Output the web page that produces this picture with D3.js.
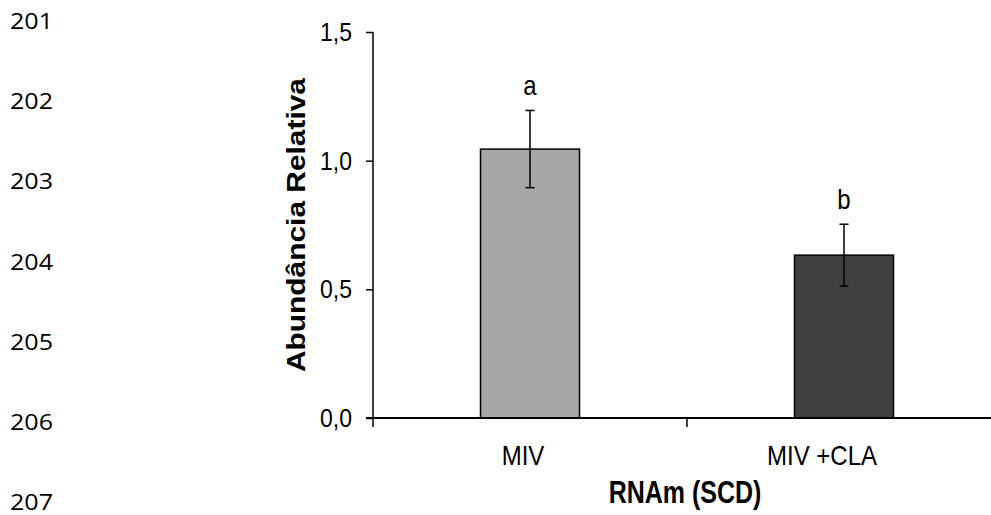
<!DOCTYPE html>
<html>
<head>
<meta charset="utf-8">
<script src="https://cdn.jsdelivr.net/npm/d3@7"></script>
<style>
  html, body { margin: 0; padding: 0; background: #fff; }
  svg { display: block; }
</style>
</head>
<body>
<svg id="chart" width="991" height="515"></svg>
<script>
const categories = ["MIV", "MIV +CLA"];
const means = [1.045, 0.633];
const errors = [0.150, 0.120];
const letters = ["a", "b"];
const barColors = ["#a6a6a6", "#404040"];
const yTicks = [0, 0.5, 1.0, 1.5];
const lineNumbers = ["201", "202", "203", "204", "205", "206", "207"];
const yLabel = "Abundância Relativa";
const xLabel = "RNAm (SCD)";

const svg = d3.select("#chart");
const W = 991, H = 515;
const SY = 1.15; // vertical stretch of chart text
const font = "'Liberation Sans', Arial, sans-serif";

function stretchedText(parent, px, py, str, size, anchor, weight, sy) {
  return parent.append("text")
    .attr("transform", `translate(${px},${py}) scale(1,${sy || SY})`)
    .attr("text-anchor", anchor || "middle")
    .attr("font-family", font).attr("font-size", size)
    .attr("font-weight", weight || "normal")
    .attr("fill", "#000")
    .text(str);
}

// line numbers on the left margin
const lineY = d3.scalePoint().domain(lineNumbers).range([29, 510]);
svg.append("g").selectAll("text").data(lineNumbers).join("text")
  .attr("x", 10).attr("y", d => lineY(d))
  .attr("font-family", "'Open Sans', 'Noto Sans', sans-serif")
  .attr("font-size", 22).attr("fill", "#000")
  .attr("textLength", 43).attr("lengthAdjust", "spacingAndGlyphs")
  .text(d => d);

const x0 = 373, x1 = 1001, yBase = 418, yTop = 32;
const x = d3.scaleBand().domain(categories).range([x0, x1]);
const y = d3.scaleLinear().domain([0, 1.5]).range([yBase, yTop]);
const barW = 99;

// bars
svg.append("g").selectAll("rect").data(categories).join("rect")
  .attr("x", d => x(d) + x.bandwidth() / 2 - barW / 2)
  .attr("y", (d, i) => y(means[i]))
  .attr("width", barW)
  .attr("height", (d, i) => y(0) - y(means[i]))
  .attr("fill", (d, i) => barColors[i])
  .attr("stroke", "#000").attr("stroke-width", 1.5);

// error bars
const eb = svg.append("g").attr("stroke", "#000").attr("stroke-width", 1.5);
categories.forEach((c, i) => {
  const cx = x(c) + x.bandwidth() / 2;
  const hi = y(means[i] + errors[i]), lo = y(means[i] - errors[i]);
  eb.append("line").attr("x1", cx).attr("x2", cx).attr("y1", hi).attr("y2", lo);
  eb.append("line").attr("x1", cx - 4.5).attr("x2", cx + 4.5).attr("y1", hi).attr("y2", hi);
  eb.append("line").attr("x1", cx - 4.5).attr("x2", cx + 4.5).attr("y1", lo).attr("y2", lo);
  stretchedText(svg, cx, hi - 15, letters[i], 24);
});

// y axis
const yAxis = svg.append("g").attr("transform", `translate(${x0},0)`)
  .call(d3.axisLeft(y).tickValues(yTicks).tickSize(7).tickPadding(14)
    .tickFormat(d => d3.format(".1f")(d).replace(".", ",")));
yAxis.select(".domain").attr("d", `M0,${yTop}V${yBase}`).attr("stroke-width", 1.5);
yAxis.selectAll(".tick line").attr("stroke-width", 1.5);
yAxis.selectAll(".tick text").attr("font-family", font).attr("font-size", 23)
  .attr("fill", "#000").attr("transform", `scale(1,${SY})`);

// x axis
svg.append("line").attr("x1", x0 - 7).attr("x2", W).attr("y1", yBase).attr("y2", yBase)
  .attr("stroke", "#000").attr("stroke-width", 2);
const xTickPos = [x0, ...categories.slice(1).map(c => x(c))];
svg.append("g").selectAll("line").data(xTickPos).join("line")
  .attr("x1", d => d).attr("x2", d => d).attr("y1", yBase).attr("y2", yBase + 9)
  .attr("stroke", "#000").attr("stroke-width", 1.5);

// category labels (slightly left of bar centres, as in the original)
const labelShift = [-7, -22];
categories.forEach((c, i) =>
  stretchedText(svg, x(c) + x.bandwidth() / 2 + labelShift[i], 465, c, 24));

// axis titles
stretchedText(svg, 685, 503, xLabel, 25, "middle", "bold", 1.25);

svg.append("text")
  .attr("transform", `translate(305,225) rotate(-90)`)
  .attr("text-anchor", "middle")
  .attr("font-family", font).attr("font-size", 25).attr("font-weight", "bold")
  .attr("textLength", 294).attr("lengthAdjust", "spacingAndGlyphs")
  .text(yLabel);
</script>
</body>
</html>
